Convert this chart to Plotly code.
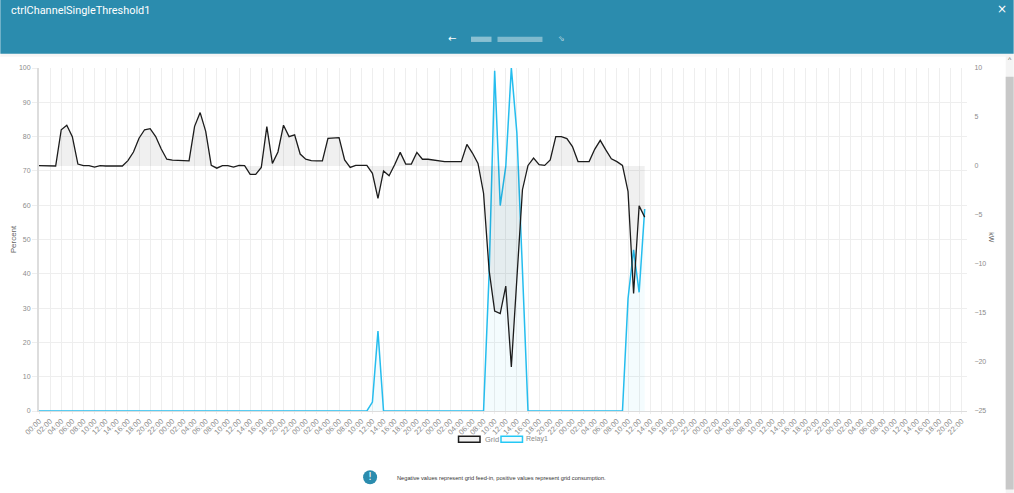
import plotly.graph_objects as go

tick_labels = ["00:00", "02:00", "04:00", "06:00", "08:00", "10:00", "12:00", "14:00",
               "16:00", "18:00", "20:00", "22:00"] * 7

# Grid power, kW, hourly
grid_kw = [0.03, 0.03, 0.03, 0.0, 3.7, 4.16, 3.0, 0.2, 0.03, 0.03, -0.12, 0.03,
           0.0, 0.0, 0.0, 0.0, 0.55, 1.43, 2.83, 3.7, 3.81, 3.0, 1.74, 0.69,
           0.59, 0.55, 0.52, 0.52, 4.05, 5.45, 3.53, 0.06, -0.22, 0.03, 0.03, -0.12,
           0.06, 0.03, -0.85, -0.85, -0.15, 4.02, 0.27, 1.43, 4.16, 3.0, 3.18, 1.22,
           0.69, 0.55, 0.52, 0.52, 2.83, 2.83, 2.9, 0.62, -0.15, 0.06, 0.06, 0.06,
           -0.75, -3.3, -0.5, -0.99, 0.13, 1.39, 0.2, 0.2, 1.39, 0.69, 0.69, 0.59,
           0.48, 0.45, 0.45, 0.45, 0.45, 2.2, 1.32, 0.27, -2.78, -10.65, -14.8, -15.06,
           -12.26, -20.5, -11.35, -2.42, 0.06, 0.8, 0.13, 0.06, 0.62, 3.0, 3.0, 2.79,
           1.99, 0.45, 0.45, 0.45, 1.7, 2.62, 1.64, 0.73, 0.45, 0.06, -2.6, -13.0,
           -4.07, -5.22]

# Relay1 level, percent, hourly
relay_pct = [0] * 60 + [2.6, 23.3] + [0] * 18 + [0, 40, 99.2, 59.9, 71.3, 100, 81, 41, 0] \
    + [0] * 16 + [0, 32.8, 47, 34.6, 58.9]
relay_pct = relay_pct[:110]

hours_grid = list(range(len(grid_kw)))
hours_relay = list(range(len(relay_pct)))

W, H = 1014, 493
L, R, T, B = 38.7, 967.3, 68.3, 410.7
TEAL = "#2b8cae"
CYAN = "#25bdee"
GREY = "#8c8c8c"
FONT = "Liberation Sans"


def px(x):
    return (x - L) / (R - L)


def py(y):
    return (B - y) / (B - T)


def rect(x0, y0, x1, y1, fill, line=None, lw=0):
    return dict(type="rect", xref="paper", yref="paper", x0=px(x0), x1=px(x1), y0=py(y0), y1=py(y1),
                fillcolor=fill, line=dict(color=line or fill, width=lw), layer="above")


def text(x, y, s, size, color, anchor="left", family=FONT, angle=0):
    return dict(xref="paper", yref="paper", x=px(x), y=py(y), text=s, showarrow=False, xanchor=anchor,
                yanchor="middle", textangle=angle, font=dict(size=size, color=color, family=family))


fig = go.Figure()
fig.add_trace(go.Scatter(x=hours_relay, y=relay_pct, name="Relay1", mode="lines", yaxis="y", fill="tozeroy",
                         fillcolor="rgba(37,189,238,0.05)", line=dict(color=CYAN, width=1.5), cliponaxis=False))
fig.add_trace(go.Scatter(x=hours_grid, y=grid_kw, name="Grid", mode="lines", yaxis="y2", fill="tozeroy",
                         fillcolor="rgba(0,0,0,0.06)", line=dict(color="#1c1c1c", width=1.3), cliponaxis=False))

shapes = [
    rect(0, 0, W, 54, TEAL),
    rect(0, 54, W, 57, "rgba(0,0,0,0.04)"),
    rect(471, 37, 491.5, 42.3, "rgba(255,255,255,0.45)"),
    rect(497.5, 37, 542.5, 42.3, "rgba(255,255,255,0.4)"),
    rect(1006, 55, W, H, "#f4f4f4"),
    rect(1006, 77, W, 489, "#c8c8c8"),
    rect(458.5, 436, 480, 442, "rgba(0,0,0,0.06)", "#1c1c1c", 1.5),
    rect(501, 436, 522.5, 442, "rgba(37,200,245,0.05)", "#25c8f5", 1.5),
    dict(type="circle", xref="paper", yref="paper", x0=px(363), x1=px(377), y0=py(469.8), y1=py(483.8),
         fillcolor=TEAL, line=dict(width=0), layer="above"),
]
annotations = [
    text(8.5, 10.5, "ctrlChannelSingleThreshold1", 10.9, "white", family="Roboto"),
    text(451.5, 38.5, "←", 10, "white", "center", "DejaVu Sans"),
    text(562, 39, "⇘", 8, "rgba(255,255,255,0.65)", "center", "DejaVu Sans"),
    text(1002, 9.5, "×", 12, "white", "center", "DejaVu Sans"),
    text(1010, 60, "^", 7, "#666666", "center"),
    text(482.5, 439, "Grid", 7.5, GREY),
    text(524.5, 439, "Relay1", 7, GREY),
    text(370, 476.5, "!", 10, "white", "center", "DejaVu Sans"),
    text(394.5, 477.8, "Negative values represent grid feed-in, positive values represent grid consumption.", 5.7,
         "#333333"),
    text(14, 239, "Percent", 8, "#666666", "center", angle=-90),
    text(991, 238, "kW", 7, "#666666", "center", angle=90),
]

fig.update_layout(
    width=W, height=H, autosize=False, showlegend=False,
    margin=dict(l=L, r=W - R, t=T, b=H - B, pad=0),
    paper_bgcolor="white", plot_bgcolor="white",
    font=dict(family=FONT, size=8, color=GREY),
    shapes=shapes, annotations=annotations,
    xaxis=dict(range=[0, len(tick_labels) * 2 - 1], tickmode="array", tickvals=list(range(0, len(tick_labels) * 2, 2)),
               ticktext=tick_labels, tickangle=-45, showgrid=True, gridcolor="#eeeeee", gridwidth=1,
               ticks="outside", ticklen=2, tickcolor="#eeeeee", showline=True, linecolor="#dddddd", linewidth=1,
               zeroline=False, tickfont=dict(size=7.5, color=GREY), automargin=False),
    yaxis=dict(range=[0, 100], tickmode="array", tickvals=list(range(0, 101, 10)), showgrid=True,
               gridcolor="#eeeeee", gridwidth=1, ticks="outside", ticklen=5, tickcolor="#eeeeee",
               showline=True, linecolor="#dddddd", linewidth=2, zeroline=False,
               tickfont=dict(size=7, color=GREY), automargin=False),
    yaxis2=dict(range=[-25, 10], overlaying="y", side="right", anchor="x", tickmode="array",
                tickvals=list(range(-25, 11, 5)), showgrid=False, zeroline=False, ticks="outside", ticklen=5,
                tickcolor="rgba(0,0,0,0)", tickfont=dict(size=7, color=GREY), automargin=False),
)

fig.write_html("out.html", config=dict(displayModeBar=False),
               post_script="document.body.style.margin='0';document.body.style.overflow='hidden';")
